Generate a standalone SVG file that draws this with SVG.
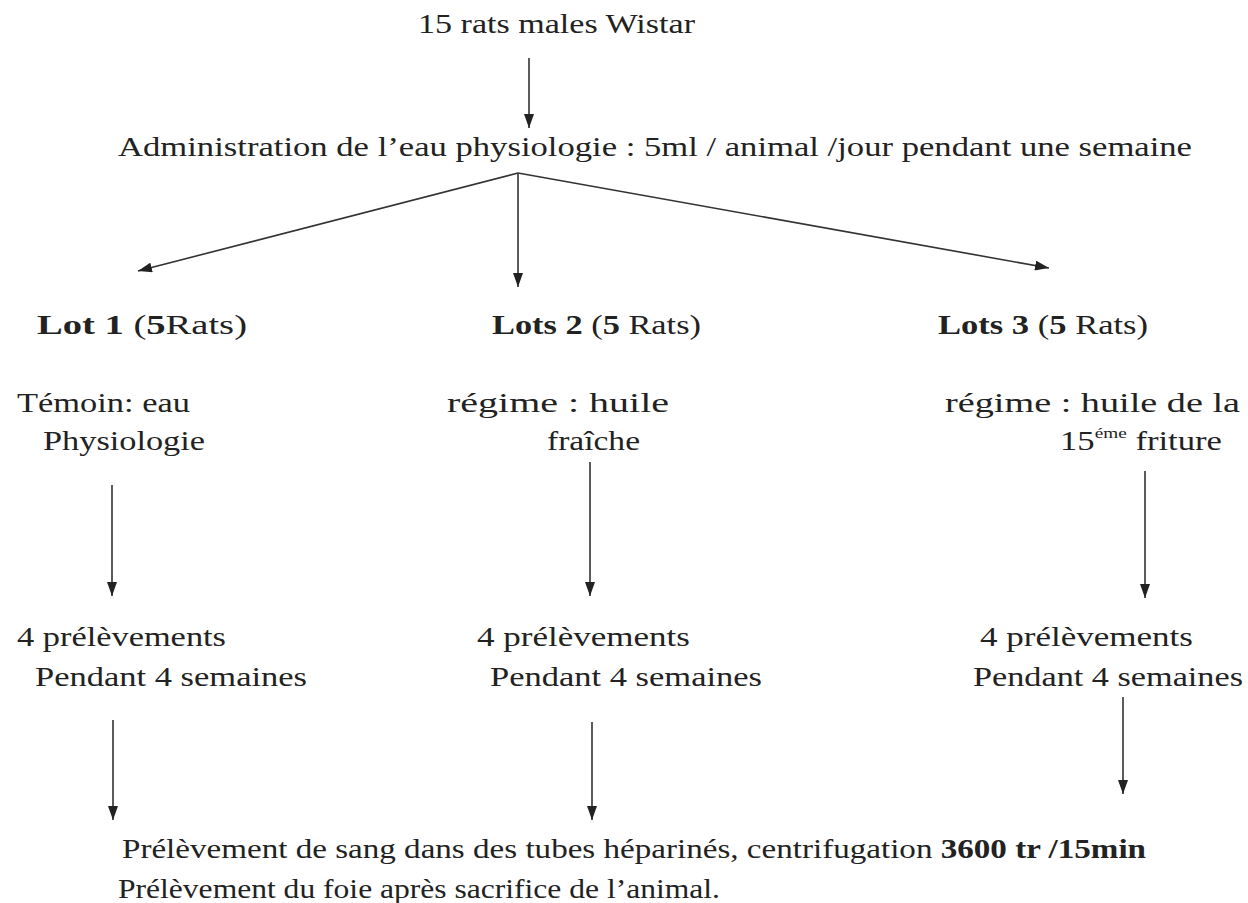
<svg xmlns="http://www.w3.org/2000/svg" width="1248" height="903" viewBox="0 0 1248 903">
<defs>
<marker id="ah" viewBox="0 0 14 10" refX="14" refY="5" markerWidth="14" markerHeight="10" markerUnits="userSpaceOnUse" orient="auto">
<path d="M0,0 L14,5 L0,10 z" fill="#222"/>
</marker>
</defs>
<style>
text{font-family:'Liberation Serif','Times New Roman','DejaVu Serif',serif;font-size:27px;fill:#222}
.b{font-weight:bold}
line{stroke:#333;stroke-width:1.6;marker-end:url(#ah)}
</style>
<rect width="1248" height="903" fill="#fff"/>
<g id="n-start"><text x="418" y="33" textLength="277" lengthAdjust="spacingAndGlyphs">15 rats males Wistar</text></g>
<g id="n-admin"><text x="118" y="156" textLength="1074" lengthAdjust="spacingAndGlyphs">Administration de l’eau physiologie : 5ml / animal /jour pendant une semaine</text></g>
<g id="n-lot1"><text x="37" y="334" textLength="210" lengthAdjust="spacingAndGlyphs"><tspan class="b">Lot 1</tspan> (<tspan class="b">5</tspan>Rats)</text></g>
<g id="n-lot2"><text x="492" y="334" textLength="209" lengthAdjust="spacingAndGlyphs"><tspan class="b">Lots 2</tspan> (<tspan class="b">5</tspan> Rats)</text></g>
<g id="n-lot3"><text x="938" y="334" textLength="210" lengthAdjust="spacingAndGlyphs"><tspan class="b">Lots 3</tspan> (<tspan class="b">5</tspan> Rats)</text></g>
<g id="n-t1"><text x="17" y="412" textLength="173" lengthAdjust="spacingAndGlyphs">Témoin: eau</text><text x="43" y="450" textLength="162" lengthAdjust="spacingAndGlyphs">Physiologie</text></g>
<g id="n-t2"><text x="447" y="412" textLength="222" lengthAdjust="spacingAndGlyphs">régime : huile</text><text x="547" y="450" textLength="93" lengthAdjust="spacingAndGlyphs">fraîche</text></g>
<g id="n-t3"><text x="945" y="412" textLength="295" lengthAdjust="spacingAndGlyphs">régime : huile de la</text><text x="1060" y="450" textLength="162" lengthAdjust="spacingAndGlyphs">15<tspan font-size="15" dy="-12">éme</tspan><tspan dy="12"> friture</tspan></text></g>
<g id="n-p1"><text x="17" y="646" textLength="209" lengthAdjust="spacingAndGlyphs">4 prélèvements</text><text x="35" y="686" textLength="272" lengthAdjust="spacingAndGlyphs">Pendant 4 semaines</text></g>
<g id="n-p2"><text x="477" y="646" textLength="213" lengthAdjust="spacingAndGlyphs">4 prélèvements</text><text x="490" y="686" textLength="272" lengthAdjust="spacingAndGlyphs">Pendant 4 semaines</text></g>
<g id="n-p3"><text x="980" y="646" textLength="213" lengthAdjust="spacingAndGlyphs">4 prélèvements</text><text x="973" y="686" textLength="270" lengthAdjust="spacingAndGlyphs">Pendant 4 semaines</text></g>
<g id="n-end"><text x="122" y="858" textLength="1024" lengthAdjust="spacingAndGlyphs">Prélèvement de sang dans des tubes héparinés, centrifugation <tspan class="b">3600 tr /15min</tspan></text><text x="118" y="898" textLength="602" lengthAdjust="spacingAndGlyphs">Prélèvement du foie après sacrifice  de l’animal.</text></g>
<g id="connectors">
<line x1="529" y1="58" x2="529" y2="128"/>
<line x1="518" y1="173" x2="138" y2="271"/>
<line x1="518" y1="173" x2="518" y2="287"/>
<line x1="518" y1="173" x2="1049" y2="268"/>
<line x1="112" y1="485" x2="112" y2="596"/>
<line x1="590" y1="462" x2="590" y2="596"/>
<line x1="1145" y1="471" x2="1145" y2="598"/>
<line x1="113" y1="720" x2="113" y2="820"/>
<line x1="592" y1="722" x2="592" y2="820"/>
<line x1="1123" y1="697" x2="1123" y2="794"/>
</g>
</svg>
